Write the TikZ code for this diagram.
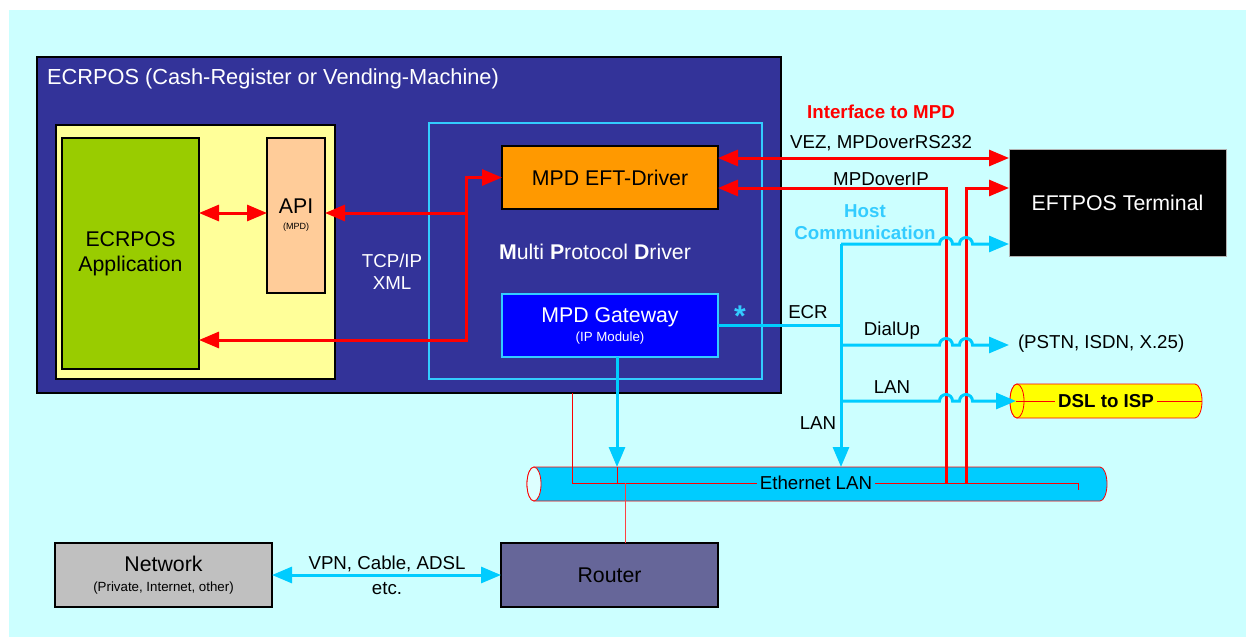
\documentclass[tikz,border=0pt]{standalone}
\usepackage{fontspec}
\setmainfont{Liberation Sans}
\usetikzlibrary{arrows.meta}
\definecolor{bgc}{HTML}{CCFFFF}
\definecolor{ecrc}{HTML}{333399}
\definecolor{yelc}{HTML}{FFFF99}
\definecolor{grnc}{HTML}{99CC00}
\definecolor{apic}{HTML}{FFCC99}
\definecolor{mpdc}{HTML}{33CCFF}
\definecolor{eftc}{HTML}{FF9900}
\definecolor{gwc}{HTML}{0000FF}
\definecolor{cyanl}{HTML}{00CCFF}
\definecolor{hostc}{HTML}{33CCFF}
\definecolor{netc}{HTML}{C0C0C0}
\definecolor{rtc}{HTML}{666699}
\definecolor{endc}{HTML}{DDFFFF}
\definecolor{dslc}{HTML}{FFFF00}
\begin{document}
\begin{tikzpicture}[x=1pt,y=-1pt,
  >={Triangle[length=20pt,width=16pt]},
  every node/.style={inner sep=0pt, outer sep=0pt},
  box/.style={draw=black, line width=1.2pt, align=center},
  fmain/.style={font=\fontsize{21.3}{25}\selectfont},
  flab/.style={font=\fontsize{18.7}{22}\selectfont},
  fbold/.style={font=\fontsize{18.7}{22}\selectfont\bfseries},
  redln/.style={draw=red, line width=3pt},
  cyanln/.style={draw=cyanl, line width=3pt},
  thinred/.style={draw=red, line width=0.9pt},
  cylout/.style={draw=red, line width=0.8pt}
]
\fill[white] (0,0) rectangle (1246,637);
\useasboundingbox (0,0) rectangle (1246,637);
\fill[bgc] (9,10) rectangle (1246,637);

% ECRPOS outer box
\node[box, fill=ecrc, minimum width=744pt, minimum height=336pt] (ecr) at (409,225) {};
\node[anchor=west, text=white, font=\fontsize{21.8}{25}\selectfont] (ecrt) at (47,79) {ECRPOS (Cash-Register or Vending-Machine)};
\node[box, fill=yelc, minimum width=279pt, minimum height=254pt] (yel) at (195.5,252) {};
\node[box, fill=grnc, minimum width=137pt, minimum height=231pt, fmain] (app) at (130.5,253.5) {ECRPOS\\Application};
\node[box, fill=apic, minimum width=58pt, minimum height=155pt, font=\fontsize{21.3}{23}\selectfont] (api) at (296,215.5)
  {API\\[-7pt]{\fontsize{9}{10}\selectfont (MPD)}};
\node[draw=mpdc, line width=1.5pt, minimum width=333pt, minimum height=256pt] (mpd) at (595.5,251) {};
\node[box, fill=eftc, minimum width=216pt, minimum height=63pt, fmain] (eft) at (610,177.5) {MPD EFT-Driver};
\node[text=white, fmain] (mpdl) at (595,252) {\textbf{M}ulti \textbf{P}rotocol \textbf{D}river};
\node[draw=mpdc, line width=1.5pt, fill=gwc, text=white, minimum width=216pt, minimum height=63pt, align=center, fmain] (gw) at (610,325.5)
  {MPD Gateway\\[-6pt]{\fontsize{13.3}{16}\selectfont (IP Module)}};
\node[text=hostc, font=\fontsize{30}{30}\selectfont\bfseries] (star) at (740,316) {*};
\node[text=white, flab, align=center] (tcp) at (392,272) {TCP/IP\\XML};

% EFTPOS terminal
\node[fill=black, draw=gray!60, line width=0.8pt, text=white, minimum width=217pt, minimum height=107pt, fmain] (eftpos) at (1117.5,202.5) {EFTPOS Terminal};

% Network and Router
\node[box, fill=netc, minimum width=217pt, minimum height=64pt, fmain] (net) at (163.5,575)
  {Network\\[-5pt]{\fontsize{13.3}{16}\selectfont (Private, Internet, other)}};
\node[box, fill=rtc, minimum width=217pt, minimum height=64pt, fmain] (router) at (609.5,575) {Router};

% Ethernet LAN cylinder
\path[cylout, fill=cyanl] (534,467) -- (1100,467) arc[start angle=-90,end angle=90,x radius=7,y radius=17]
  -- (534,501) arc[start angle=90,end angle=270,x radius=7,y radius=17] -- cycle;
\draw[cylout, fill=endc] (534,484) ellipse[x radius=7,y radius=17];
\coordinate (e1) at (572,483);
\coordinate (e2) at (1078,483);
\coordinate (gx) at (617,467);
\coordinate (rx) at (625,483);
\draw[thinred] (ecr.south -| e1) -- (e1) -- (e2) -- ++(0,7);
\draw[thinred] (gx) -- (gx |- e1);
\draw[draw=red!75, line width=0.9pt] (rx) -- (router.north -| rx);
\node[fill=cyanl, inner xsep=3pt, inner ysep=2pt, flab] (ethl) at (816,483) {Ethernet LAN};

% DSL cylinder
\path[cylout, fill=dslc] (1017,384) -- (1195,384) arc[start angle=-90,end angle=90,x radius=7,y radius=17]
  -- (1017,418) arc[start angle=90,end angle=270,x radius=7,y radius=17] -- cycle;
\draw[cylout, fill=dslc] (1017,401) ellipse[x radius=7,y radius=17];
\coordinate (dslc) at (1016,401);
\draw[thinred] (dslc) -- (1202,401);
\node[fill=dslc, inner xsep=3pt, inner ysep=2pt, fbold] (dsl) at (1106,401) {DSL to ISP};

% Red connectors (left)
\coordinate (ja) at (466,213);
\coordinate (jb) at (466,340);
\draw[redln,<->] (app.east |- ja) -- (api.west |- ja);
\draw[redln,->] (ja) -- (api.east |- ja);
\draw[redln,->] (ja) |- (eft.west);
\draw[redln,->] (ja) |- (app.east |- jb);

% Red connectors (right)
\coordinate (vz) at (860,158);
\coordinate (ip) at (860,188);
\coordinate (r1) at (946,483);
\coordinate (r2) at (966,483);
\draw[redln,<->] (eft.east |- vz) -- (eftpos.west |- vz);
\draw[redln,<-] (eft.east |- ip) -| (r1);
\draw[redln,->] (r2) |- (eftpos.west |- ip);

% Cyan connectors
\coordinate (tt) at (841,244);
\coordinate (tb) at (841,467);
\coordinate (du) at (841,345);
\coordinate (la) at (841,401);
\draw[cyanln,->] (tt) -- (tb);
\draw[cyanln] (gw.east) -- (gw.east -| tt);
\draw[cyanln,->] (tt) -- (939.5,244) arc[start angle=180,end angle=360,radius=6.5] -- (959.5,244)
  arc[start angle=180,end angle=360,radius=6.5] -- (eftpos.west |- tt);
\node[anchor=west, inner xsep=9pt, flab] (pstn) at (1009,344) {(PSTN, ISDN, X.25)};
\draw[cyanln,->] (du) -- (939.5,345) arc[start angle=180,end angle=360,radius=6.5] -- (959.5,345)
  arc[start angle=180,end angle=360,radius=6.5] -- (pstn.west |- du);
\draw[cyanln,->] (la) -- (939.5,401) arc[start angle=180,end angle=360,radius=6.5] -- (959.5,401)
  arc[start angle=180,end angle=360,radius=6.5] -- (dslc);
\draw[cyanln,->] (gw.south -| gx) -- (gx);
\draw[cyanln,<->] (net.east) -- (router.west);

% Labels
\node[fbold, text=red] (ifc) at (881,112) {Interface to MPD};
\node[flab] (vezl) at (881,143) {VEZ, MPDoverRS232};
\node[flab] (ipl) at (881,179) {MPDoverIP};
\node[fbold, text=hostc, align=center] (host) at (865,222) {Host\\Communication};
\node[flab] (ecrl) at (808,312) {ECR};
\node[flab] (dul) at (892,331) {DialUp};
\node[flab] (lan1) at (892,387) {LAN};
\node[flab] (lan2) at (818,423) {LAN};
\node[flab] (vpn) at (387,564) {VPN, Cable, ADSL};
\node[flab] (etc) at (387,589) {etc.};
\end{tikzpicture}
\end{document}
